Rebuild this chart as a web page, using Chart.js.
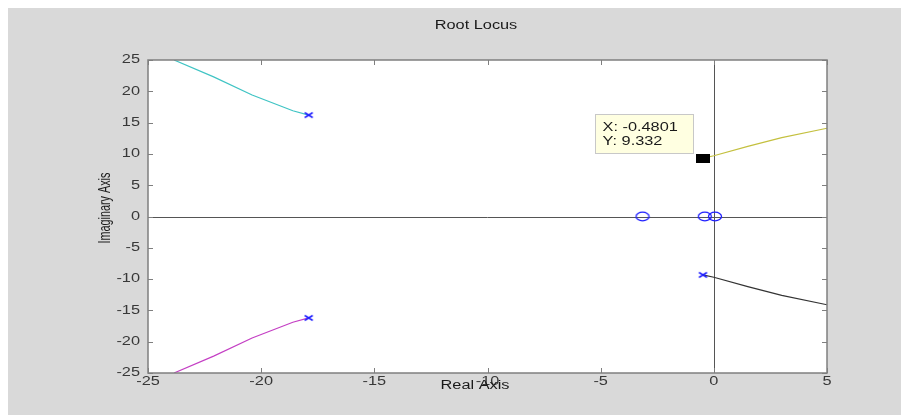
<!DOCTYPE html>
<html lang="en">
<head>
    <meta charset="UTF-8">
    <title>Root Locus</title>
    <style>
        html, body { margin: 0; padding: 0; background: #ffffff; }
        .wrap { width: 901px; height: 415px; }
    </style>
</head>
<body>
    <div class="wrap"><canvas id="rlocus" width="901" height="415"></canvas></div>
    <script src="https://cdn.jsdelivr.net/npm/chart.js"></script>
    <script>
        // axis ticks
        const xTicks = [-25, -20, -15, -10, -5, 0, 5];
        const yTicks = [-25, -20, -15, -10, -5, 0, 5, 10, 15, 20, 25];

        // locus branches (real, imag)
        const branchCyan    = [[-17.9, 16.2], [-18.6, 16.9], [-20.4, 19.4], [-22.1, 22.3], [-23.85, 25]];
        const branchMagenta = [[-17.9, -16.2], [-18.6, -16.9], [-20.4, -19.4], [-22.1, -22.3], [-23.85, -25]];
        const branchYellow  = [[-0.48, 9.33], [0, 9.7], [1.5, 11.2], [3, 12.6], [5, 14.1]];
        const branchBlack   = [[-0.48, -9.33], [0, -9.7], [1.5, -11.2], [3, -12.6], [5, -14.1]];

        // open loop poles and zeros
        const poles = [[-17.9, 16.2], [-17.9, -16.2], [-0.48, 9.33], [-0.48, -9.33]];
        const zeros = [[-3.15, 0], [-0.4, 0], [0.05, 0]];

        // data cursor
        const cursorPoint = [-0.4801, 9.332];
        const cursorText = ['X: -0.4801', 'Y: 9.332'];

        const toXY = arr => arr.map(p => ({ x: p[0], y: p[1] }));

        function lineSet(data, color) {
            return {
                data: toXY(data), showLine: true, borderColor: color, borderWidth: 1.2,
                pointRadius: 0, fill: false, order: 5
            };
        }

        // marker images (the source picture is stretched sideways)
        function makeMark(w, h, draw) {
            const c = document.createElement('canvas');
            c.width = w; c.height = h;
            draw(c.getContext('2d'));
            return c;
        }
        const cursorMark = makeMark(14, 9, g => { g.fillStyle = '#000'; g.fillRect(0, 0, 14, 9); });
        const zeroMark = makeMark(16, 11, g => {
            g.strokeStyle = '#2020ff'; g.lineWidth = 1.3;
            g.beginPath(); g.ellipse(8, 5.5, 6.5, 4.3, 0, 0, Math.PI * 2); g.stroke();
        });
        const poleMark = makeMark(11, 8, g => {
            g.strokeStyle = '#2020ff'; g.lineWidth = 1.5;
            g.beginPath(); g.moveTo(1.5, 1.5); g.lineTo(9.5, 6.5); g.moveTo(9.5, 1.5); g.lineTo(1.5, 6.5); g.stroke();
        });

        const AXIS = '#7f7f7f';
        const FONT = '"Liberation Sans", Arial, sans-serif';
        const SX = 1.36;

        function wideText(ctx, text, x, y, align) {
            ctx.save();
            ctx.translate(x, y);
            ctx.scale(SX, 1);
            ctx.textAlign = align;
            ctx.fillText(text, 0, 0);
            ctx.restore();
        }

        const figurePlugin = {
            id: 'figure',
            beforeDraw(chart) {
                const ctx = chart.ctx;
                const a = chart.chartArea;
                ctx.save();
                ctx.fillStyle = '#ffffff';
                ctx.fillRect(0, 0, chart.width, chart.height);
                ctx.fillStyle = '#d9d9d9';
                ctx.fillRect(8, 8, chart.width - 8, chart.height - 8);
                ctx.fillStyle = '#ffffff';
                ctx.fillRect(a.left, a.top, a.right - a.left, a.bottom - a.top);
                ctx.restore();
            },
            beforeDatasetsDraw(chart) {
                const ctx = chart.ctx;
                const a = chart.chartArea;
                const xs = chart.scales.x, ys = chart.scales.y;
                ctx.save();
                ctx.strokeStyle = '#555555';
                ctx.lineWidth = 1;
                const x0 = Math.round(xs.getPixelForValue(0)) + 0.5;
                const y0 = Math.round(ys.getPixelForValue(0)) + 0.5;
                ctx.beginPath();
                ctx.moveTo(a.left, y0); ctx.lineTo(a.right, y0);
                ctx.moveTo(x0, a.top); ctx.lineTo(x0, a.bottom);
                ctx.stroke();
                ctx.restore();
            },
            afterDraw(chart) {
                const ctx = chart.ctx;
                const a = chart.chartArea;
                const xs = chart.scales.x, ys = chart.scales.y;
                ctx.save();
                // box
                ctx.strokeStyle = AXIS;
                ctx.lineWidth = 1.5;
                ctx.strokeRect(a.left, a.top, a.right - a.left, a.bottom - a.top);
                // inward ticks
                ctx.lineWidth = 1;
                ctx.beginPath();
                xTicks.forEach(v => {
                    const px = Math.round(xs.getPixelForValue(v)) + 0.5;
                    ctx.moveTo(px, a.bottom); ctx.lineTo(px, a.bottom - 5);
                    ctx.moveTo(px, a.top); ctx.lineTo(px, a.top + 5);
                });
                yTicks.forEach(v => {
                    const py = Math.round(ys.getPixelForValue(v)) + 0.5;
                    ctx.moveTo(a.left, py); ctx.lineTo(a.left + 5, py);
                    ctx.moveTo(a.right, py); ctx.lineTo(a.right - 5, py);
                });
                ctx.stroke();

                // tick labels
                ctx.fillStyle = '#383838';
                ctx.font = '12px ' + FONT;
                ctx.textBaseline = 'middle';
                xTicks.forEach(v => wideText(ctx, String(v), xs.getPixelForValue(v), a.bottom + 9, 'center'));
                yTicks.forEach(v => wideText(ctx, String(v), a.left - 8, ys.getPixelForValue(v), 'right'));

                // titles
                ctx.fillStyle = '#1a1a1a';
                wideText(ctx, 'Root Locus', 476, 26, 'center');
                wideText(ctx, 'Real Axis', 475, 386, 'center');
                ctx.save();
                ctx.translate(105, 208);
                ctx.scale(SX, 0.9);
                ctx.rotate(-Math.PI / 2);
                ctx.textAlign = 'center';
                ctx.fillText('Imaginary Axis', 0, 0);
                ctx.restore();

                // data cursor label
                const cx = xs.getPixelForValue(cursorPoint[0]);
                const cy = ys.getPixelForValue(cursorPoint[1]);
                const bw = 98, bh = 39;
                const bx = Math.round(cx - 10 - bw) + 0.5;
                const by = Math.round(cy - 5 - bh) + 0.5;
                ctx.fillStyle = '#ffffe1';
                ctx.fillRect(bx, by, bw, bh);
                ctx.strokeStyle = '#c8c8c8';
                ctx.lineWidth = 1;
                ctx.strokeRect(bx, by, bw, bh);
                ctx.fillStyle = '#1a1a1a';
                wideText(ctx, cursorText[0], bx + 7, by + 13, 'left');
                wideText(ctx, cursorText[1], bx + 7, by + 27, 'left');
                ctx.restore();
            }
        };

        new Chart(document.getElementById('rlocus'), {
            type: 'scatter',
            data: {
                datasets: [
                    lineSet(branchCyan, '#3fc4c4'),
                    lineSet(branchMagenta, '#c43fc4'),
                    lineSet(branchYellow, '#c4c03f'),
                    lineSet(branchBlack, '#333333'),
                    { data: toXY(poles), pointStyle: poleMark, pointRadius: 5, order: 3 },
                    { data: toXY(zeros), pointStyle: zeroMark, pointRadius: 6, order: 3 },
                    { data: toXY([cursorPoint]), pointStyle: cursorMark, pointRadius: 7, order: 1 }
                ]
            },
            options: {
                responsive: false,
                animation: false,
                events: [],
                layout: { padding: { left: 0, top: 60, right: 74, bottom: 0 } },
                plugins: { legend: { display: false }, tooltip: { enabled: false }, title: { display: false } },
                scales: {
                    x: {
                        type: 'linear', min: -25, max: 5,
                        afterBuildTicks: s => { s.ticks = xTicks.map(v => ({ value: v })); },
                        afterFit: s => { s.height = 42; },
                        grid: { display: false },
                        border: { display: false },
                        ticks: { display: false }
                    },
                    y: {
                        type: 'linear', min: -25, max: 25,
                        afterBuildTicks: s => { s.ticks = yTicks.map(v => ({ value: v })); },
                        afterFit: s => { s.width = 148; },
                        grid: { display: false },
                        border: { display: false },
                        ticks: { display: false }
                    }
                }
            },
            plugins: [figurePlugin]
        });
    </script>
</body>
</html>
